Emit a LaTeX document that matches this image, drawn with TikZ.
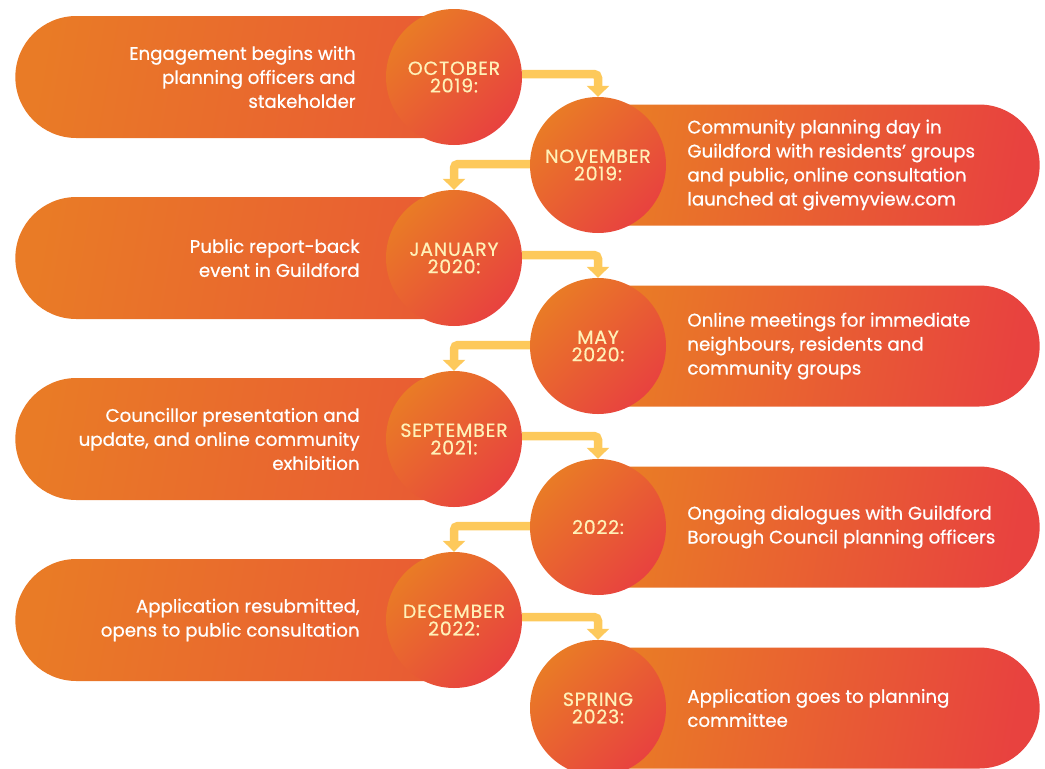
\documentclass[tikz,border=0pt]{standalone}
\usepackage{fontspec}
\setmainfont{Poppins}
\newfontfamily\tlfont{Poppins}[FakeBold=0.7]
\newfontfamily\datefont{Poppins}[FakeBold=0.6, LetterSpace=4]
\usetikzlibrary{positioning,shapes.misc,arrows.meta}

\definecolor{tlorange}{HTML}{E97B26}
\definecolor{tlred}{HTML}{E8423F}
\definecolor{tlyellow}{HTML}{FDC95B}
\definecolor{tlcream}{HTML}{FFF1B8}

\tikzset{
  lpill/.style={rounded rectangle, rounded rectangle right arc=none,
    minimum width=448, minimum height=122,
    left color=tlorange, right color=tlorange!45!tlred, shading angle=80},
  rpill/.style={rounded rectangle, rounded rectangle left arc=none,
    minimum width=443, minimum height=121,
    left color=tlorange, right color=tlred, shading angle=80},
  date/.style={circle, minimum size=136, inner sep=0pt, align=center,
    top color=tlorange, middle color=tlorange!88!tlred, bottom color=tlred,
    shading angle=45, text=tlcream, font=\datefont\fontsize{19}{17.5}\selectfont},
  desc/.style={text=white, font=\tlfont\fontsize{18.2}{24}\selectfont, inner sep=0pt},
  flow/.style={draw=tlyellow, line width=8.5, rounded corners=4,
    -{Triangle[width=22, length=11]}}
}

\begin{document}
\begin{tikzpicture}[x=1pt,y=-1pt]
  \useasboundingbox (0,0) rectangle (1045,769);

  % bars behind the dates
  \foreach \i/\y in {1/77,3/258,5/439,7/620}
    \node[lpill] (p\i) at (236,\y) {};
  \foreach \i/\y in {2/165,4/346,6/527,8/708}
    \node[rpill] (p\i) at (821.5,\y) {};

  % date circles
  \node[date] (d1) at (454,77)  {OCTOBER\\2019:};
  \node[date] (d2) at (598,165) {NOVEMBER\\2019:};
  \node[date] (d3) at (454,258) {JANUARY\\2020:};
  \node[date] (d4) at (598,346) {MAY\\2020:};
  \node[date] (d5) at (454,439) {SEPTEMBER\\2021:};
  \node[date] (d6) at (598,527) {2022:};
  \node[date] (d7) at (454,620) {DECEMBER\\2022:};
  \node[date] (d8) at (598,708) {SPRING\\2023:};

  % connectors
  \foreach \a/\b in {d1/d2,d3/d4,d5/d6,d7/d8}
    \draw[flow] ([yshift=3pt]\a.east) -| (\b.north);
  \foreach \a/\b in {d2/d3,d4/d5,d6/d7}
    \draw[flow] ([yshift=1pt]\a.west) -| (\b.north);

  % descriptions
  \node[desc, align=right, left=30 of d1] (t1)
    {Engagement begins with\\planning officers and\\stakeholder};
  \node[desc, align=left, right=21 of d2] (t2)
    {Community planning day in\\Guildford with residents’ groups\\and public, online consultation\\launched at givemyview.com};
  \node[desc, align=right, left=26 of d3] (t3)
    {Public report-back\\event in Guildford};
  \node[desc, align=left, right=21 of d4] (t4)
    {Online meetings for immediate\\neighbours, residents and\\community groups};
  \node[desc, align=right, left=26 of d5] (t5)
    {Councillor presentation and\\update, and online community\\exhibition};
  \node[desc, align=left, right=21 of d6] (t6)
    {Ongoing dialogues with Guildford\\Borough Council planning officers};
  \node[desc, align=right, left=26 of d7] (t7)
    {Application resubmitted,\\opens to public consultation};
  \node[desc, align=left, right=21 of d8] (t8)
    {Application goes to planning\\committee};
\end{tikzpicture}
\end{document}
